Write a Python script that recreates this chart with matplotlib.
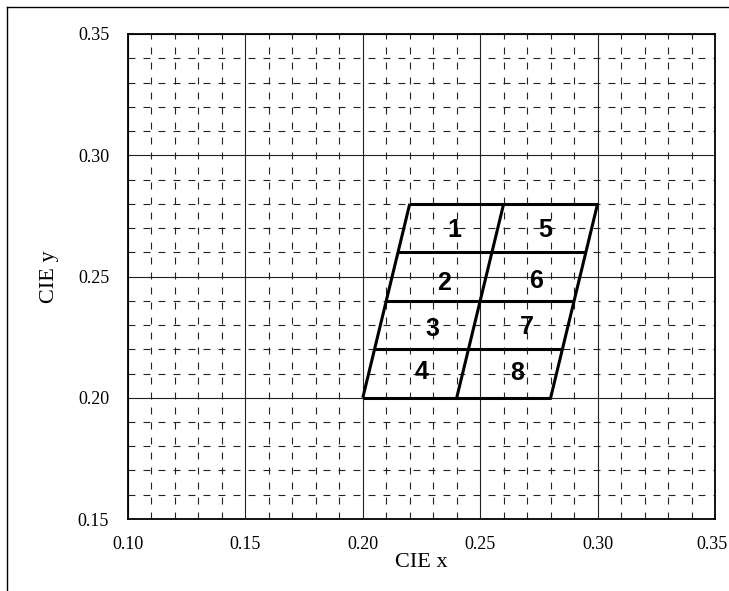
import matplotlib
matplotlib.use("Agg")
import matplotlib.pyplot as plt
import matplotlib.transforms as mtransforms
from matplotlib.lines import Line2D
import numpy as np

# Data
x_range = [0.10, 0.35]
y_range = [0.15, 0.35]
major_ticks_x = [0.10, 0.15, 0.20, 0.25, 0.30, 0.35]
major_ticks_y = [0.15, 0.20, 0.25, 0.30, 0.35]
# Bin boundary edges: (x, y) at bottom and top
left_edge = [(0.20, 0.20), (0.22, 0.28)]
mid_edge = [(0.24, 0.20), (0.26, 0.28)]
right_edge = [(0.28, 0.20), (0.30, 0.28)]
row_levels = [0.20, 0.22, 0.24, 0.26, 0.28]
bin_labels = ["1", "2", "3", "4", "5", "6", "7", "8"]
bin_label_x = [0.2388, 0.2346, 0.2295, 0.2251, 0.2779, 0.2736, 0.2698, 0.2659]
bin_label_y = [0.2692, 0.2473, 0.2283, 0.2107, 0.2690, 0.2483, 0.2293, 0.2102]

plt.rcParams['lines.scale_dashes'] = False
serif = ['Liberation Serif', 'DejaVu Serif']

fig = plt.figure(figsize=(7.29, 5.91), dpi=100)
ax = fig.add_axes([128/729, 1-519/591, (715-128)/729, (519-34)/591])

ax.set_xlim(*x_range)
ax.set_ylim(*y_range)
ax.set_xticks(major_ticks_x)
ax.set_yticks(major_ticks_y)
ax.set_xticks(np.round(np.arange(0.10, 0.351, 0.01), 2), minor=True)
ax.set_yticks(np.round(np.arange(0.15, 0.351, 0.01), 2), minor=True)
ax.set_xticklabels([f"{v:.2f}" for v in major_ticks_x], family=serif, fontsize=13)
ax.set_yticklabels([f"{v:.2f}" for v in major_ticks_y], family=serif, fontsize=13)
ax.tick_params(which='both', length=0)
ax.tick_params(axis='x', pad=12)
ax.tick_params(axis='y', pad=13.5)
ax.grid(which='minor', color='#222222', linewidth=0.8, linestyle=(0, (5.0, 5.8)))
ax.grid(which='major', color='#222222', linewidth=0.8, linestyle='-')
ax.set_axisbelow(True)
for s in ax.spines.values():
    s.set_linewidth(1.3)

# nudge the last x tick label so it stays inside the image
last = ax.get_xticklabels()[-1]
last.set_transform(last.get_transform() + mtransforms.ScaledTranslation(-3/100, 0, fig.dpi_scale_trans))

ax.set_xlabel("CIE x", family=serif, fontsize=16)
ax.set_ylabel("CIE y", family=serif, fontsize=16)
ax.xaxis.set_label_coords(0.5, -0.071)
ax.yaxis.set_label_coords(-0.118, 0.5)

lw = 2.2
def interp(edge, y):
    (x0, y0), (x1, y1) = edge
    return x0 + (x1 - x0) * (y - y0) / (y1 - y0)

for edge in (left_edge, mid_edge, right_edge):
    ax.plot([edge[0][0], edge[1][0]], [edge[0][1], edge[1][1]], color='black', lw=lw, solid_capstyle='butt')
for yl in row_levels:
    ax.plot([interp(left_edge, yl), interp(right_edge, yl)], [yl, yl], color='black', lw=lw, solid_capstyle='butt')

for t, xx, yy in zip(bin_labels, bin_label_x, bin_label_y):
    ax.text(xx, yy, t, ha='center', va='center', fontsize=18, fontweight='bold',
            family=['Liberation Sans', 'DejaVu Sans'])

# outer frame (left and top)
fig.add_artist(Line2D([6.5/729, 6.5/729], [0, 1-6.5/591], transform=fig.transFigure, color='black', lw=1.0))
fig.add_artist(Line2D([6.5/729, 1], [1-6.5/591, 1-6.5/591], transform=fig.transFigure, color='black', lw=1.0))

fig.savefig("out.png", dpi=100)
